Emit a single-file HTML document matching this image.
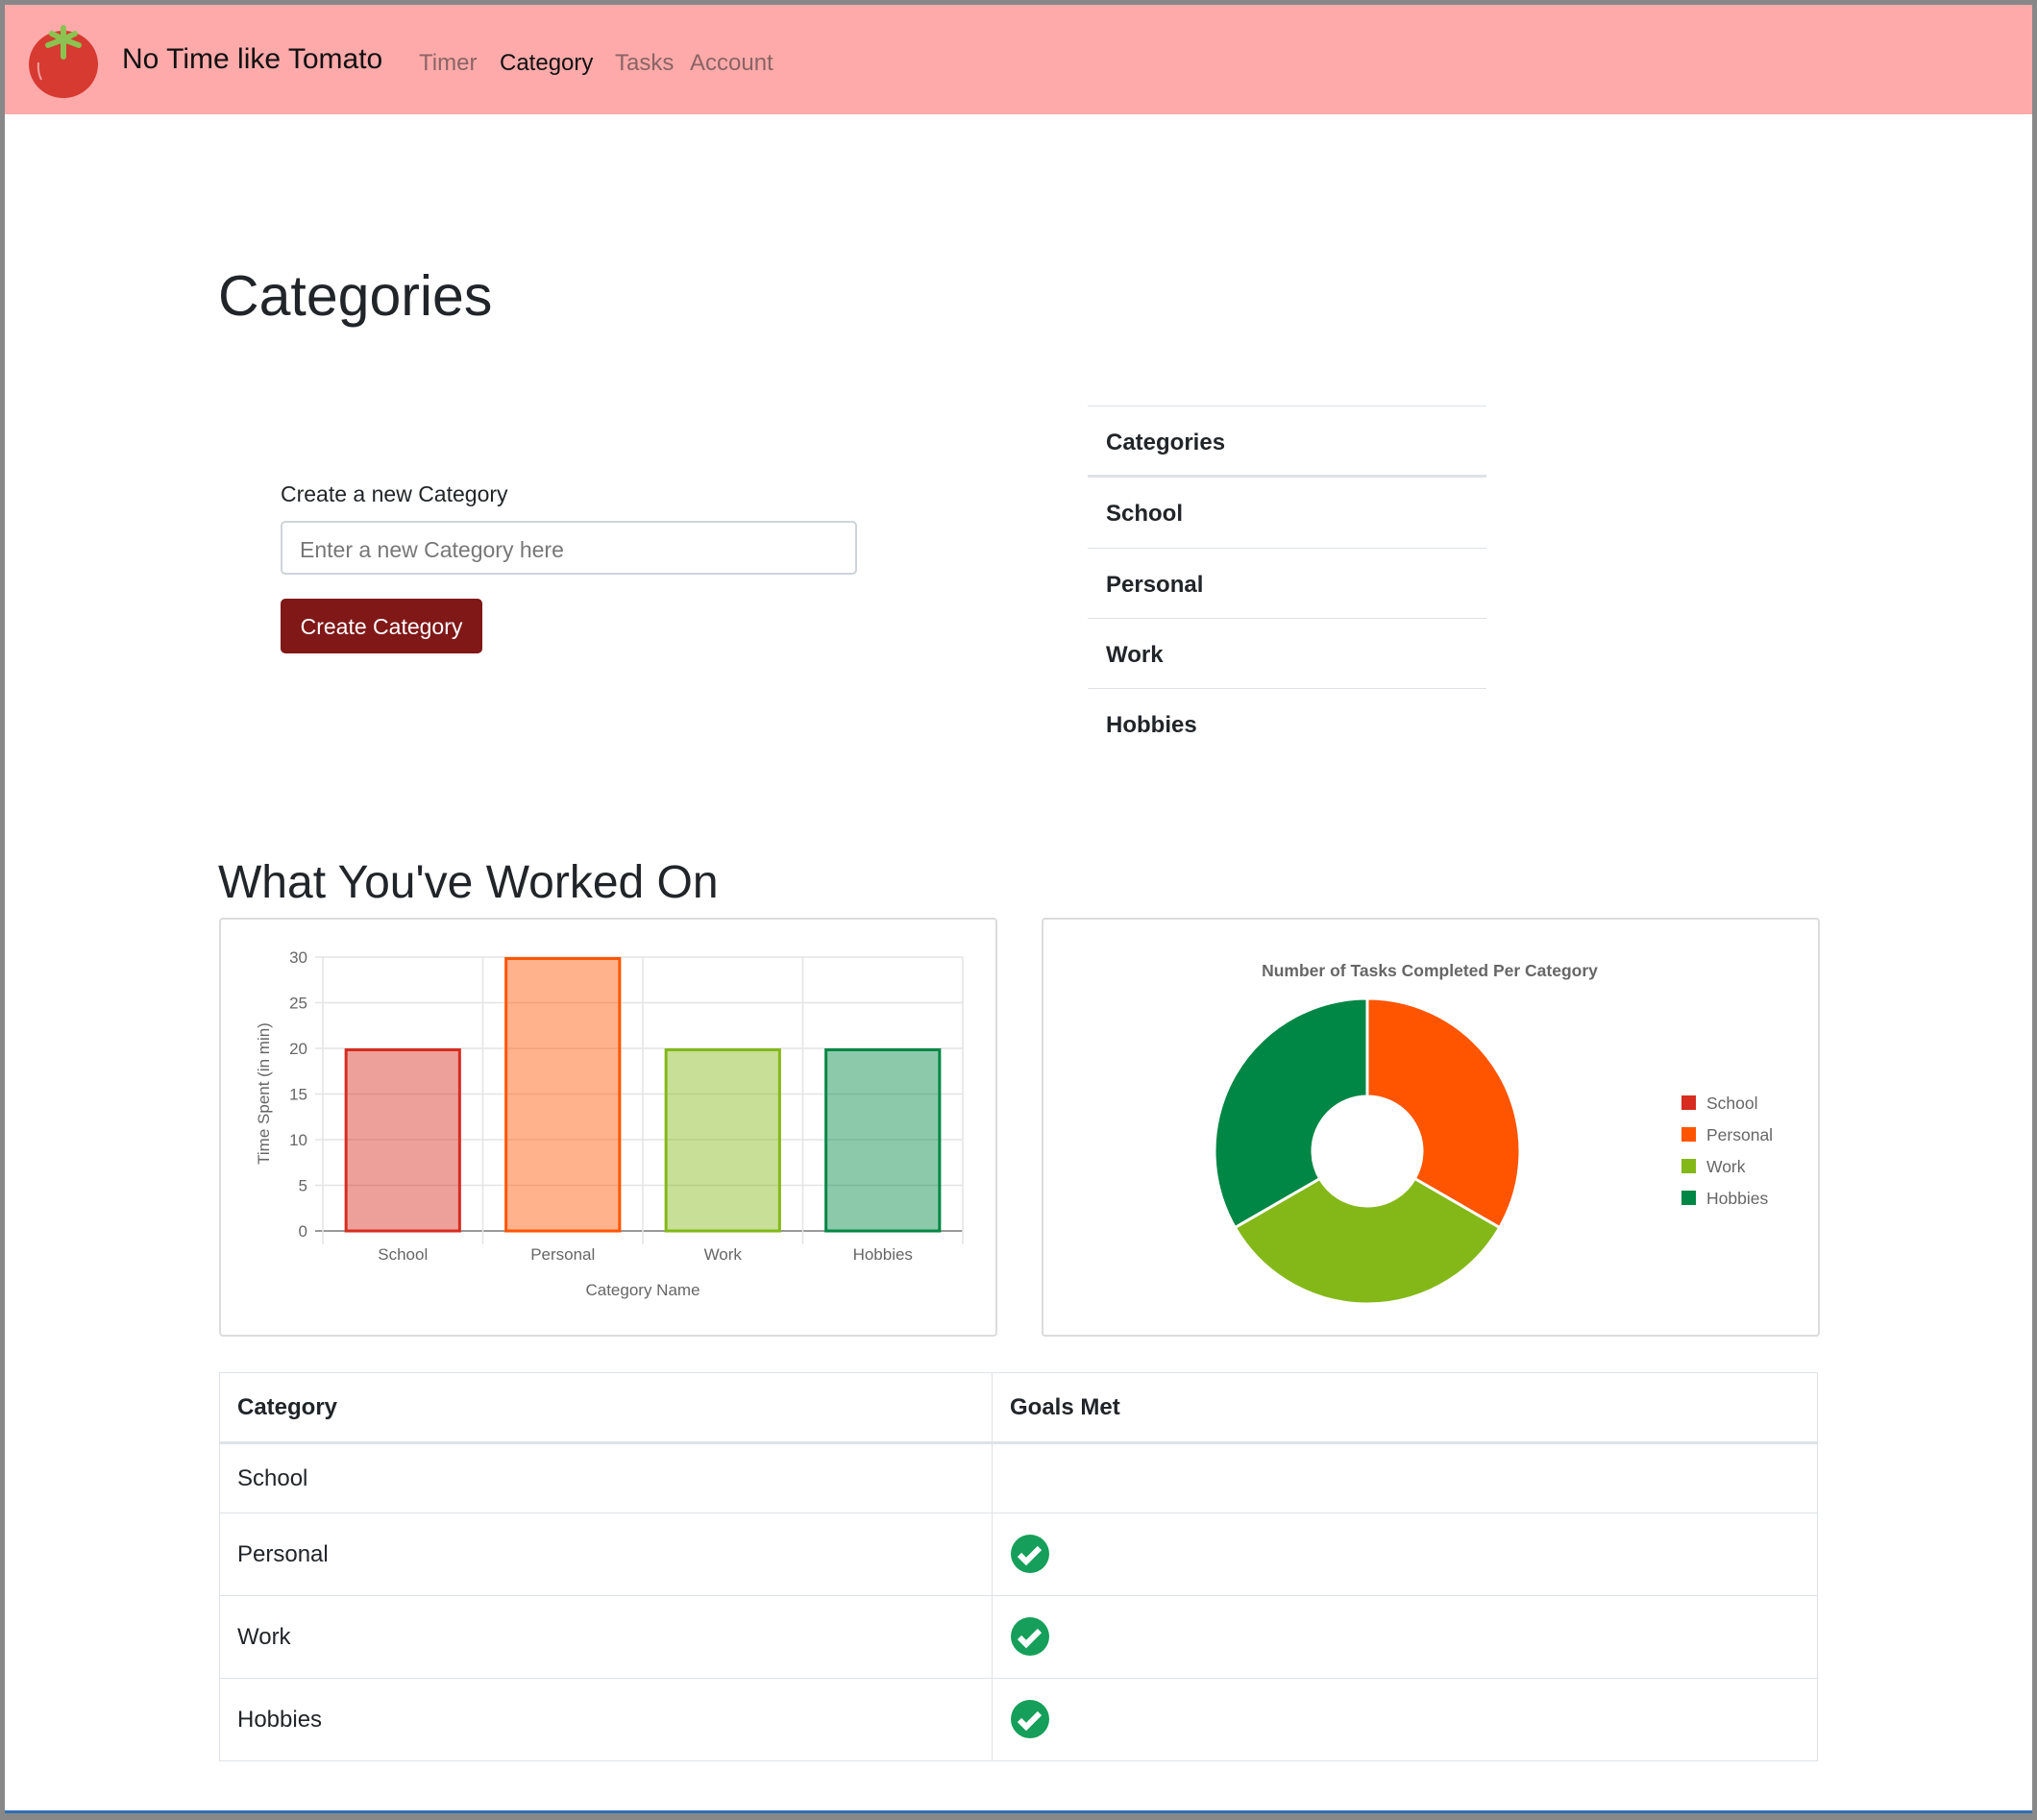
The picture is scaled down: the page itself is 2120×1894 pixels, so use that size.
<!DOCTYPE html>
<html><head><meta charset="utf-8">
<style>
*{box-sizing:border-box;margin:0;padding:0}
html,body{width:2120px;height:1894px;overflow:hidden;background:#888}
body{font-family:"Liberation Sans",sans-serif;color:#212529;position:relative}
#page{position:absolute;left:5px;top:5px;width:2110px;height:1882px;background:#fff;border-bottom:3px solid #2f6fb5}
.abs{position:absolute}
#nav{left:0;top:0;width:2110px;height:114px;background:#ffaaaa}
.nl{top:47px;font-size:24px;color:#8a6464}
h1{position:absolute;left:222px;top:274px;font-size:59px;font-weight:500;line-height:1}
h2{position:absolute;left:222px;top:890px;font-size:48px;font-weight:500;line-height:1}
.li{position:absolute;left:1127px;width:415px;border-top:1px solid #dee2e6;font-weight:bold;font-size:24px;padding-left:19px}
.card{position:absolute;border:2px solid #dcdcdc;border-radius:4px;background:#fff}
table{position:absolute;left:223px;top:1423px;width:1664px;border-collapse:collapse;font-size:24px}
td,th{border:1px solid #dee2e6;text-align:left;padding:0 18px;vertical-align:middle}
th{height:73px;border-bottom:3px solid #dee2e6}
</style></head><body>
<div id="page">
 <div id="nav" class="abs">
  <svg class="abs" style="left:23px;top:18px" width="80" height="84">
   <ellipse cx="38" cy="44" rx="36" ry="35" fill="#d63a31"/>
   <path d="M12 42 q-1 10 3 18" stroke="#f0a0a0" stroke-width="2" fill="none"/>
   <path d="M38 6 L38 36 M38 18 L22 24 M38 18 L54 24 M38 18 L26 12 M38 18 L50 12" stroke="#8cc251" stroke-width="6" stroke-linecap="round"/>
  </svg>
  <div class="abs" style="left:122px;top:40px;font-size:30px;color:#111">No Time like Tomato</div>
  <div class="abs nl" style="left:431px">Timer</div>
  <div class="abs nl" style="left:515px;color:#111">Category</div>
  <div class="abs nl" style="left:635px">Tasks</div>
  <div class="abs nl" style="left:713px">Account</div>
 </div>
 <h1>Categories</h1>
 <div class="abs" style="left:287px;top:496px;font-size:23px">Create a new Category</div>
 <div class="abs" style="left:287px;top:537px;width:600px;height:56px;border:2px solid #ced4da;border-radius:5px;font-size:23px;color:#777;padding:15px 18px">Enter a new Category here</div>
 <div class="abs" style="left:287px;top:618px;width:210px;height:57px;background:#801818;border-radius:5px;color:#fff;font-size:23px;text-align:center;line-height:59px">Create Category</div>
 <div class="li" style="top:417px;height:74px;line-height:76px;border-bottom:2px solid #dee2e6">Categories</div>
 <div class="li" style="top:491px;height:74px;line-height:76px">School</div>
 <div class="li" style="top:565px;height:73px;line-height:75px">Personal</div>
 <div class="li" style="top:638px;height:73px;line-height:75px">Work</div>
 <div class="li" style="top:711px;height:73px;line-height:75px">Hobbies</div>
 <h2>What You've Worked On</h2>
 <div class="card" style="left:223px;top:950px;width:810px;height:436px"></div>
 <div class="card" style="left:1079px;top:950px;width:810px;height:436px"></div>
 <svg id="charts" class="abs" style="left:-5px;top:-5px" width="2120" height="1894"></svg>
 <table>
  <tr style="height:73px"><th style="width:804px">Category</th><th>Goals Met</th></tr>
  <tr style="height:73px"><td>School</td><td></td></tr>
  <tr style="height:86px"><td>Personal</td><td><svg width="42" height="42" style="margin-top:6px"><circle cx="21" cy="21" r="20" fill="#159f5a"/><path d="M10 22 l7 7 l14 -14" stroke="#fff" stroke-width="6" fill="none"/></svg></td></tr>
  <tr style="height:86px"><td>Work</td><td><svg width="42" height="42" style="margin-top:6px"><circle cx="21" cy="21" r="20" fill="#159f5a"/><path d="M10 22 l7 7 l14 -14" stroke="#fff" stroke-width="6" fill="none"/></svg></td></tr>
  <tr style="height:86px"><td>Hobbies</td><td><svg width="42" height="42" style="margin-top:6px"><circle cx="21" cy="21" r="20" fill="#159f5a"/><path d="M10 22 l7 7 l14 -14" stroke="#fff" stroke-width="6" fill="none"/></svg></td></tr>
 </table>
</div>
<script>
const categories=["School","Personal","Work","Hobbies"];
const timeSpent=[20,30,20,20];
const tasksDone=[0,1,1,1];
const yTicks=[0,5,10,15,20,25,30];
const fills=["rgba(214,45,32,0.45)","rgba(255,85,0,0.45)","rgba(132,184,25,0.45)","rgba(1,135,69,0.45)"];
const strokes=["#d62d20","#ff5500","#84b819","#018745"];
const NS="http://www.w3.org/2000/svg";
const svg=document.getElementById("charts");
function mk(t,a,txt){const e=document.createElementNS(NS,t);for(const k in a)e.setAttribute(k,a[k]);if(txt!==undefined)e.textContent=txt;svg.appendChild(e);return e;}
const L=336,R=1002,T=996,B=1281,yMax=30;
const y=v=>B-(v/yMax)*(B-T);
const bw=(R-L)/categories.length;
const x=i=>L+bw*i;
yTicks.forEach(t=>{
 const g=mk("line",{x1:L-8,x2:R,y1:y(t),y2:y(t),stroke:t===0?"#999":"#e4e4e4","stroke-width":t===0?2:1.5});
 
 
 const tl=mk("text",{x:L-16,y:y(t)+6,"text-anchor":"end","font-size":17,fill:"#666","font-family":"Liberation Sans, sans-serif"},t);
 
 
});
for(let i=0;i<=categories.length;i++){
 const g=mk("line",{x1:x(i),x2:x(i),y1:T,y2:B+14,stroke:"#e4e4e4","stroke-width":1.5});
 
 
}
categories.forEach((c,i)=>{
 const w=bw*0.71,bx=x(i)+(bw-w)/2;
 const r=mk("rect",{x:bx,y:y(timeSpent[i])+1.5,width:w,height:B-y(timeSpent[i])-1.5,fill:fills[i],stroke:strokes[i],"stroke-width":3});
 
 
 const t=mk("text",{x:x(i)+bw/2,y:1311,"text-anchor":"middle","font-size":17,fill:"#666","font-family":"Liberation Sans, sans-serif"},c);
 
 
});
const xt=mk("text",{x:(L+R)/2,y:1348,"text-anchor":"middle","font-size":17,fill:"#666","font-family":"Liberation Sans, sans-serif"},"Category Name");


const yt=mk("text",{x:0,y:0,transform:"translate(280,1138) rotate(-90)","text-anchor":"middle","font-size":17,fill:"#666","font-family":"Liberation Sans, sans-serif"},"Time Spent (in min)");


const cx=1423,cy=1198,Ro=159,Ri=57;
const total=tasksDone.reduce((a,b)=>a+b,0);
let ang=-Math.PI/2;
const P=(r,a)=>[cx+r*Math.cos(a),cy+r*Math.sin(a)];
categories.forEach((c,i)=>{
 const sweep=tasksDone[i]/total*2*Math.PI;
 if(sweep<=0)return;
 const a0=ang,a1=ang+sweep;ang=a1;
 const lg=sweep>Math.PI?1:0;
 const [x0,y0]=P(Ro,a0),[x1,y1]=P(Ro,a1),[x2,y2]=P(Ri,a1),[x3,y3]=P(Ri,a0);
 const p=mk("path",{d:`M${x0} ${y0} A${Ro} ${Ro} 0 ${lg} 1 ${x1} ${y1} L${x2} ${y2} A${Ri} ${Ri} 0 ${lg} 0 ${x3} ${y3} Z`,fill:strokes[i],stroke:"#fff","stroke-width":3});
 
 
});
const dt=mk("text",{x:1488,y:1016,"text-anchor":"middle","font-size":17.5,"font-weight":"bold",fill:"#666","font-family":"Liberation Sans, sans-serif"},"Number of Tasks Completed Per Category");


categories.forEach((c,i)=>{
 const ly=1148+i*33;
 const b=mk("rect",{x:1750,y:ly-8,width:15,height:15,fill:strokes[i]});
 
 
 const t=mk("text",{x:1776,y:ly+6,"font-size":17.5,fill:"#666","font-family":"Liberation Sans, sans-serif"},c);
 
 
});
</script>
</body></html>
